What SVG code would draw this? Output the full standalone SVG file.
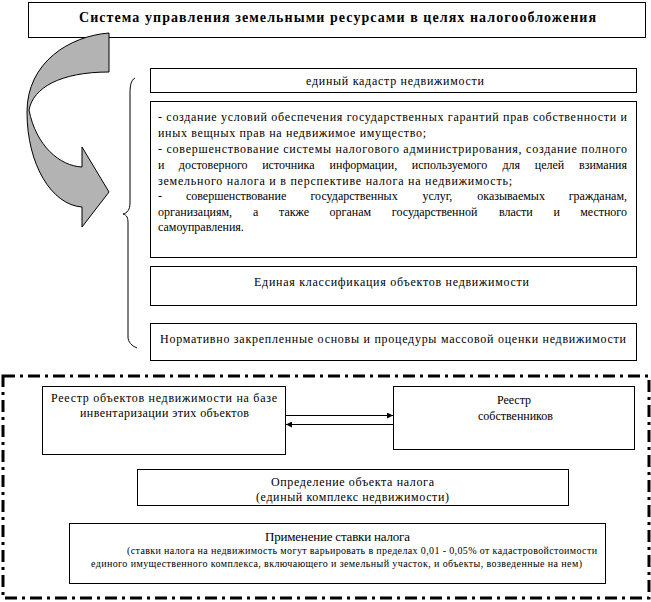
<svg xmlns="http://www.w3.org/2000/svg" width="651" height="602" viewBox="0 0 651 602">
<style>
.box{fill:#fff;stroke:#000;stroke-width:1}
text{font-family:"Times New Roman",Tinos,"Liberation Serif","DejaVu Serif","Noto Serif",serif;font-size:12px;fill:#000}
.m{text-anchor:middle}
.b{font-weight:bold;font-size:14px}
.s{font-size:10px}
.ln{stroke:#000;stroke-width:1;fill:none}
</style>
<defs>
<marker id="ah" viewBox="0 0 10 10" refX="10" refY="5" markerWidth="7" markerHeight="6" orient="auto" markerUnits="userSpaceOnUse">
<path d="M0,0 L10,5 L0,10 Z" fill="#000"/>
</marker>
</defs>
<rect width="651" height="602" fill="#fff"/>

<g id="title">
<rect class="box" x="28.5" y="2.5" width="617" height="35"/>
<text class="m b" x="337.5" y="22" textLength="517" lengthAdjust="spacing">Система управления земельными ресурсами в целях налогообложения</text>
</g>

<g id="curved-arrow">
<path d="M109,33 C70,36 27,62 27,112 C27,165 52,205 82,207 L82,227 L109,192 L82,147 L82,167 C60,166 36,146 29,110 C33,88 60,72 109,72 Z" fill="#b3b3b3" stroke="#000" stroke-width="1"/>
</g>

<g id="brace">
<path class="ln" d="M135,78 C131,80 130,86 130,93 L130,203 C130,210 127,213 123,214 C127,215 128,218 128,223 L128,337 C128,342 132,346 137,348"/>
</g>

<g id="cadastre">
<rect class="box" x="150.5" y="68.5" width="486" height="24"/>
<text class="m" x="395" y="85" textLength="178" lengthAdjust="spacing">единый кадастр недвижимости</text>
</g>

<g id="goals">
<rect class="box" x="150.5" y="101.5" width="486" height="156"/>
<text x="158" y="121" textLength="469" lengthAdjust="spacing">- создание условий обеспечения государственных гарантий прав собственности и</text>
<text x="158" y="137" textLength="268" lengthAdjust="spacing">иных вещных прав на недвижимое имущество;</text>
<text x="158" y="153" textLength="469" lengthAdjust="spacing">- совершенствование системы налогового администрирования, создание полного</text>
<text y="169"><tspan x="158">и</tspan><tspan x="178.8">достоверного</tspan><tspan x="262.2">источника</tspan><tspan x="329.6">информации,</tspan><tspan x="411.8">используемого</tspan><tspan x="502.4">для</tspan><tspan x="534.8">целей</tspan><tspan x="627" text-anchor="end">взимания</tspan></text>
<text x="158" y="185" textLength="354" lengthAdjust="spacing">земельного налога и в перспективе налога на недвижимость;</text>
<text y="200"><tspan x="158">-</tspan><tspan x="185.9">совершенствование</tspan><tspan x="310.5">государственных</tspan><tspan x="422.4">услуг,</tspan><tspan x="477.3">оказываемых</tspan><tspan x="627" text-anchor="end">гражданам,</tspan></text>
<text y="216"><tspan x="158">организациям,</tspan><tspan x="253.1">а</tspan><tspan x="279">также</tspan><tspan x="329.6">органам</tspan><tspan x="391.8">государственной</tspan><tspan x="498.9">власти</tspan><tspan x="553.5">и</tspan><tspan x="627" text-anchor="end">местного</tspan></text>
<text x="158" y="231">самоуправления.</text>
</g>

<g id="classification">
<rect class="box" x="150.5" y="266.5" width="486" height="39"/>
<text class="m" x="391.5" y="286" textLength="275" lengthAdjust="spacing">Единая классификация объектов недвижимости</text>
</g>

<g id="valuation">
<rect class="box" x="150.5" y="323.5" width="486" height="37"/>
<text class="m" x="393" y="343" textLength="466" lengthAdjust="spacing">Нормативно закрепленные основы и процедуры массовой оценки недвижимости</text>
</g>

<g id="frame">
<rect x="3" y="376" width="646" height="222" fill="none" stroke="#000" stroke-width="3" stroke-dasharray="12 5 3 5"/>
</g>

<g id="registry-objects">
<rect class="box" x="42.5" y="386.5" width="243" height="68"/>
<text class="m" x="164" y="402" textLength="226" lengthAdjust="spacing">Реестр объектов недвижимости на базе</text>
<text class="m" x="164.5" y="417" textLength="169" lengthAdjust="spacing">инвентаризации этих объектов</text>
</g>

<g id="registry-owners">
<rect class="box" x="393.5" y="386.5" width="241" height="63"/>
<text class="m" x="514" y="404">Реестр</text>
<text class="m" x="515.5" y="420" textLength="75" lengthAdjust="spacing">собственников</text>
</g>

<g id="tax-object">
<rect class="box" x="137.5" y="469.5" width="431" height="36"/>
<text class="m" x="352.5" y="486" textLength="163" lengthAdjust="spacing">Определение объекта налога</text>
<text class="m" x="352.5" y="501" textLength="193" lengthAdjust="spacing">(единый комплекс недвижимости)</text>
</g>

<g id="tax-rate">
<rect class="box" x="69.5" y="523.5" width="536" height="60"/>
<text class="m" x="337.5" y="541" style="font-size:13px" textLength="145" lengthAdjust="spacing">Применение ставки налога</text>
<text class="s" x="127" y="554" textLength="470" lengthAdjust="spacing">(ставки налога на недвижимость могут варьировать в пределах 0,01 - 0,05% от кадастровойстоимости</text>
<text class="s" x="91" y="567" textLength="491" lengthAdjust="spacing">единого имущественного комплекса, включающего и земельный участок, и объекты, возведенные на нем)</text>
</g>

<g id="connectors">
<line class="ln" x1="286" y1="415.5" x2="393" y2="415.5" marker-end="url(#ah)"/>
<line class="ln" x1="393" y1="424.5" x2="286" y2="424.5" marker-end="url(#ah)"/>
</g>
</svg>
